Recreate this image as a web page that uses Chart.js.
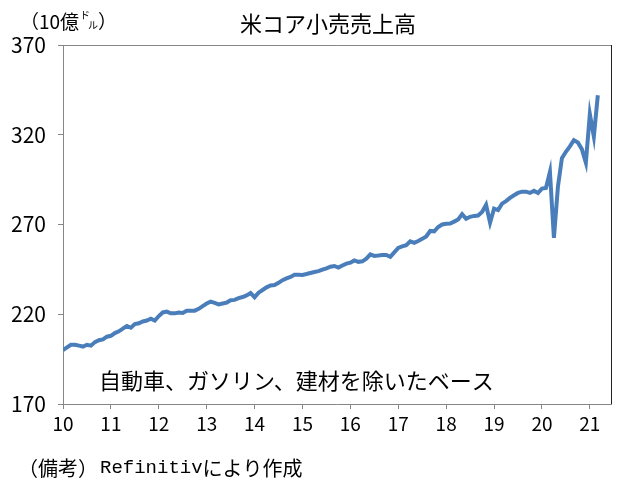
<!DOCTYPE html>
<html lang="ja">
<head>
<meta charset="utf-8">
<title>米コア小売売上高</title>
<script src="https://cdn.jsdelivr.net/npm/chart.js@4.4.1/dist/chart.umd.min.js"></script>
<style>
    html, body { margin: 0; padding: 0; background: #ffffff; }
    #wrap { width: 620px; height: 490px; position: relative; }
</style>
</head>
<body>
<div id="wrap"><canvas id="salesChart" width="620" height="490"></canvas></div>
<script>
// 月次データ（2010年1月～2021年3月、10億ドル）
const yearLabels = ['10', '11', '12', '13', '14', '15', '16', '17', '18', '19', '20', '21'];
const yTicks = [170, 220, 270, 320, 370];
const salesValues = [
    200.0, 201.5, 203.0, 203.0, 202.5, 202.0, 203.0, 202.5, 204.5, 205.5, 206.0, 207.5,
    208.0, 209.5, 210.5, 212.0, 213.5, 212.5, 214.5, 215.0, 216.0, 216.5, 217.5, 216.5,
    219.0, 221.0, 221.5, 220.5, 220.5, 221.0, 220.7, 222.0, 222.0, 222.0, 223.0, 224.5,
    226.0, 227.0, 226.3, 225.5, 226.0, 226.5, 227.8, 228.0, 229.0, 229.6, 230.5, 231.8,
    229.5, 232.0, 233.5, 235.0, 236.0, 236.3, 237.5, 239.0, 240.0, 240.8, 242.0, 242.0,
    241.9, 242.4, 243.0, 243.5, 244.0, 244.8, 245.6, 246.5, 246.9, 246.0, 247.2, 248.2,
    248.7, 250.0, 249.2, 249.5, 251.0, 253.4, 252.5, 252.7, 253.0, 253.0, 252.0, 254.5,
    257.0, 257.8, 258.5, 260.6, 259.8, 260.8, 262.0, 263.3, 266.4, 266.2, 268.6, 270.0,
    270.4, 270.5, 271.6, 272.8, 275.8, 273.2, 274.3, 274.8, 275.0, 277.0, 281.0, 271.0,
    278.8, 278.0, 281.6, 283.0, 284.8, 286.3, 287.6, 288.3, 288.3, 287.6, 288.8, 287.6,
    290.0, 290.3, 299.3, 262.5, 291.0, 307.0, 310.5, 313.5, 317.0, 315.7, 312.0, 304.5,
    331.5, 319.0, 342.0
];

// 軸の色・フォント
const axisColor = '#868686';
const fontJP = "'Noto Sans CJK JP', 'Noto Sans', sans-serif";
const fontMono = "'Liberation Mono', 'DejaVu Sans Mono', monospace";

// 枠線と注記を描くプラグイン
const textPlugin = {
    id: 'textPlugin',
    afterDraw(chart) {
        const { ctx, chartArea } = chart;
        ctx.save();

        // プロットエリアの上と右の枠
        ctx.strokeStyle = axisColor;
        ctx.lineWidth = 1;
        ctx.beginPath();
        ctx.moveTo(chartArea.left, chartArea.top + 0.5);
        ctx.lineTo(chartArea.right + 0.5, chartArea.top + 0.5);
        ctx.stroke();
        ctx.strokeStyle = '#222222';
        ctx.beginPath();
        ctx.moveTo(chartArea.right + 0.5, chartArea.top);
        ctx.lineTo(chartArea.right + 0.5, chartArea.bottom);
        ctx.stroke();

        ctx.fillStyle = '#000000';
        ctx.textBaseline = 'middle';

        // タイトル
        ctx.font = `22px ${fontJP}`;
        ctx.textAlign = 'center';
        ctx.fillText('米コア小売売上高', 328, 24);

        // 単位
        ctx.textAlign = 'left';
        ctx.font = `19px ${fontJP}`;
        let x = 20;
        ctx.fillText('（10億', x, 22);
        x += ctx.measureText('（10億').width;
        ctx.font = `10px ${fontJP}`;
        ctx.fillText('ド', x + 1, 15);
        ctx.fillText('ル', x + 9, 25);
        ctx.font = `19px ${fontJP}`;
        ctx.fillText('）', x + 19, 22);

        // 注記
        ctx.font = `22px ${fontJP}`;
        ctx.fillText('自動車、ガソリン、建材を除いたベース', 99, 381);

        // 出所
        x = 18;
        ctx.font = `20px ${fontJP}`;
        ctx.fillText('（備考）', x, 468);
        x += ctx.measureText('（備考）').width + 2;
        ctx.font = `19px ${fontMono}`;
        ctx.fillText('Refinitiv', x, 468);
        x += ctx.measureText('Refinitiv').width;
        ctx.font = `20px ${fontJP}`;
        ctx.fillText('により作成', x, 468);

        ctx.restore();
    }
};

function initSalesChart() {
    const ctx = document.getElementById('salesChart');
    if (!ctx) return;

    const points = salesValues.map((v, i) => ({ x: i, y: v }));

    new Chart(ctx, {
        type: 'line',
        data: {
            datasets: [{
                data: points,
                borderColor: '#4a7ebb',
                borderWidth: 4,
                pointRadius: 0,
                tension: 0,
                fill: false
            }]
        },
        options: {
            responsive: false,
            animation: false,
            events: [],
            layout: {
                padding: { top: 45, right: 9, left: 0, bottom: 0 }
            },
            plugins: {
                legend: { display: false },
                tooltip: { enabled: false }
            },
            scales: {
                x: {
                    type: 'linear',
                    min: 0,
                    max: 137.3,
                    afterBuildTicks(scale) {
                        scale.ticks = yearLabels.map((_, i) => ({ value: i * 12 }));
                    },
                    afterFit(scale) {
                        scale.height = 86;
                    },
                    ticks: {
                        color: '#000000',
                        font: { family: fontJP, size: 19 },
                        padding: 3,
                        maxRotation: 0,
                        autoSkip: false,
                        callback: (value) => yearLabels[Math.round(value / 12)]
                    },
                    grid: {
                        drawOnChartArea: false,
                        color: axisColor,
                        tickLength: 5
                    },
                    border: { color: axisColor, width: 1 }
                },
                y: {
                    min: 170,
                    max: 370,
                    afterBuildTicks(scale) {
                        scale.ticks = yTicks.map(v => ({ value: v }));
                    },
                    afterFit(scale) {
                        scale.width = 63;
                    },
                    ticks: {
                        color: '#000000',
                        font: { family: fontJP, size: 21 },
                        padding: 12
                    },
                    grid: {
                        drawOnChartArea: false,
                        color: axisColor,
                        tickLength: 5
                    },
                    border: { color: axisColor, width: 1 }
                }
            }
        },
        plugins: [textPlugin]
    });
}

document.addEventListener('DOMContentLoaded', initSalesChart);
</script>
</body>
</html>
